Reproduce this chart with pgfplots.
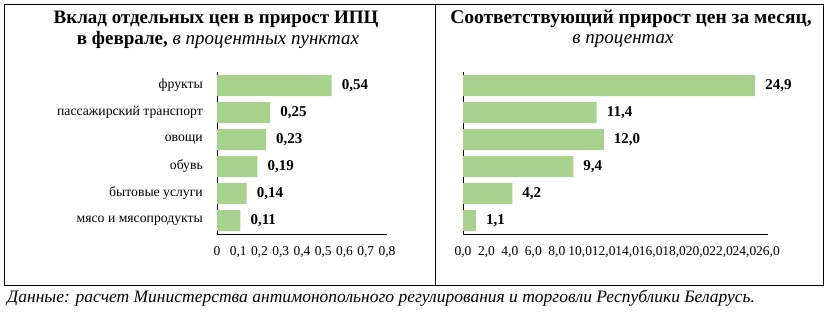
\documentclass[border=0pt]{standalone}
\usepackage{pgfplots}
\pgfplotsset{compat=1.18}
\usepackage{fontspec}
\setmainfont{Liberation Serif}
\definecolor{barg}{HTML}{A9D18E}

\pgfplotstableread{
idx val lab
0 0.54 0,54
1 0.25 0,25
2 0.23 0,23
3 0.19 0,19
4 0.14 0,14
5 0.11 0,11
}\lefttab
\pgfplotstableread{
idx val lab
0 24.9 24,9
1 11.4 11,4
2 12.0 12,0
3 9.4 9,4
4 4.2 4,2
5 1.1 1,1
}\righttab

\pgfplotsset{
  mybar/.style={
    scale only axis,
    xbar, bar width=21pt,
    ymin=-0.5, ymax=5.5, y dir=reverse,
    axis x line*=bottom, axis y line*=left,
    axis line style={-, line width=0.8pt},
    major tick length=0pt,
    ytick={0,...,5},
    xticklabel style={font=\fontsize{13.5}{13.5}\selectfont, yshift=-9pt},
    yticklabel style={font=\fontsize{13.7}{13.7}\selectfont, inner sep=0pt, xshift=-14pt},
    nodes near coords,
    point meta=explicit symbolic,
    every node near coord/.style={anchor=west, inner sep=0pt, xshift=10pt, font=\fontsize{15}{15}\selectfont\bfseries},
    clip=false,
  }
}

\begin{document}
\begin{tikzpicture}
\path (0pt,0pt) rectangle (833pt,-315pt);
\draw[line width=1pt] (4pt,-5pt) rectangle (435pt,-286pt);
\draw[line width=1pt] (435pt,-5pt) rectangle (823pt,-286pt);

\node[font=\fontsize{19}{19}\selectfont\bfseries] at (216pt,-19pt) {Вклад отдельных цен в прирост ИПЦ};
\node[font=\fontsize{19}{19}\selectfont] at (218pt,-40pt) {\textbf{в феврале,} \textit{в процентных пунктах}};
\node[font=\fontsize{19.5}{19.5}\selectfont\bfseries] at (631pt,-19pt) {Соответствующий прирост цен за месяц,};
\node[font=\fontsize{19}{19}\selectfont\itshape] at (623pt,-41pt) {в процентах};
\node[font=\fontsize{17.5}{17.5}\selectfont\itshape, anchor=west, inner sep=0pt] at (7pt,-298pt) {Данные: расчет Министерства антимонопольного регулирования и торговли Республики Беларусь.};

\begin{axis}[mybar,
  at={(217pt,-234pt)}, anchor=south west,
  width=170pt, height=162pt,
  xmin=0, xmax=0.8,
  xtick={0,0.1,...,0.8},
  xticklabels={0,{0,1},{0,2},{0,3},{0,4},{0,5},{0,6},{0,7},{0,8}},
  yticklabels={фрукты, пассажирский транспорт, овощи, обувь, бытовые услуги, мясо и мясопродукты},
]
\addplot[fill=barg, draw=none] table[x=val, y=idx, meta=lab] {\lefttab};
\end{axis}

\begin{axis}[mybar,
  at={(463pt,-234pt)}, anchor=south west,
  width=305pt, height=162pt,
  xmin=0, xmax=26,
  xtick={0,2,...,26},
  xticklabels={{0,0},{2,0},{4,0},{6,0},{8,0},{10,0},{12,0},{14,0},{16,0},{18,0},{20,0},{22,0},{24,0},{26,0}},
  yticklabels={},
]
\addplot[fill=barg, draw=none] table[x=val, y=idx, meta=lab] {\righttab};
\end{axis}
\end{tikzpicture}
\end{document}
